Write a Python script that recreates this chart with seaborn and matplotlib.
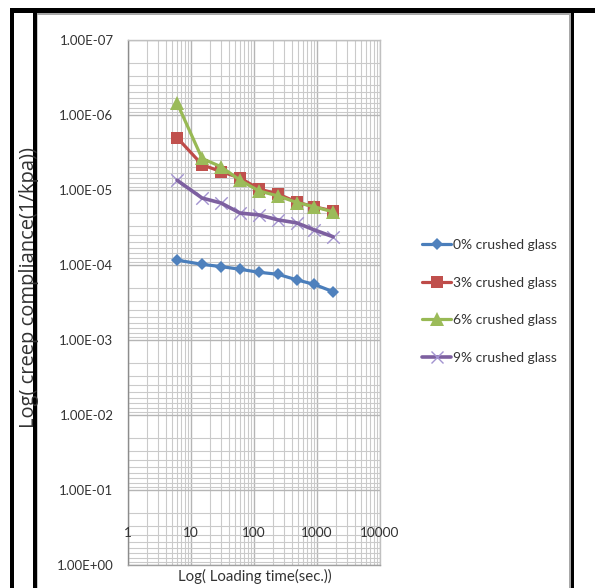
import numpy as np
import pandas as pd
import matplotlib
matplotlib.use("Agg")
import matplotlib.pyplot as plt
from matplotlib.lines import Line2D
from matplotlib.patches import Rectangle
from matplotlib.ticker import LogLocator, FuncFormatter, NullFormatter
import seaborn as sns

# ---------------- data ----------------
loading_time = [6, 15, 30, 60, 120, 240, 480, 900, 1800]
glass_0 = [8.6e-5, 9.8e-5, 1.05e-4, 1.14e-4, 1.25e-4, 1.33e-4, 1.58e-4, 1.81e-4, 2.27e-4]
glass_3 = [2.0e-6, 4.6e-6, 5.7e-6, 6.9e-6, 9.7e-6, 1.13e-5, 1.45e-5, 1.67e-5, 1.9e-5]
glass_6 = [6.9e-7, 3.8e-6, 4.9e-6, 7.4e-6, 1.03e-5, 1.2e-5, 1.47e-5, 1.67e-5, 1.96e-5]
glass_9 = [7.4e-6, 1.28e-5, 1.49e-5, 2.03e-5, 2.15e-5, 2.5e-5, 2.75e-5, 3.4e-5, 4.2e-5]
series_names = ["0% crushed glass", "3% crushed glass", "6% crushed glass", "9% crushed glass"]
x_ticks = [1, 10, 100, 1000, 10000]
x_tick_labels = ["1", "10", "100", "1000", "10000"]
y_ticks = [1e-7, 1e-6, 1e-5, 1e-4, 1e-3, 1e-2, 1e-1, 1e0]
x_title = "Log( Loading time(sec.))"
y_title = "Log( creep compliance(1/kpa))"

# ---------------- style ----------------
sns.set_style("white")
NARROW = ["Liberation Sans Narrow", "Lato", "DejaVu Sans"]
WIDE = ["Open Sans", "DejaVu Sans"]
plt.rcParams["font.family"] = NARROW
TXT = "#333333"

W, H = 595, 588
fig = plt.figure(figsize=(W / 100, H / 100), dpi=100)
fig.patch.set_facecolor("white")


def rect(x0, y0, x1, y1, color):
    fig.add_artist(Rectangle((x0 / W, 1 - y1 / H), (x1 - x0) / W, (y1 - y0) / H,
                             transform=fig.transFigure, facecolor=color,
                             edgecolor="none", zorder=1))


# page/table frame
rect(10, 8, 595, 13, "black")
rect(10, 8, 14, 588, "black")
rect(33, 13, 37, 588, "black")
rect(37, 13, 571, 15, "#a8a8a8")
rect(37, 15, 38, 588, "#c8c8c8")
rect(569, 13, 571, 588, "#a8a8a8")
rect(571, 8, 574, 588, "black")

ax = fig.add_axes([128 / W, 1 - 565 / H, (380 - 128) / W, (565 - 40) / H])
ax.set_xscale("log")
ax.set_yscale("log")
ax.set_xlim(1, 10000)
ax.set_ylim(1e0, 1e-7)  # reversed axis

# grid
ax.xaxis.set_minor_locator(LogLocator(base=10, subs=np.arange(2, 10), numticks=100))
ax.yaxis.set_minor_locator(LogLocator(base=10, subs=np.arange(2, 10), numticks=100))
ax.xaxis.set_minor_formatter(NullFormatter())
ax.yaxis.set_minor_formatter(NullFormatter())
ax.grid(True, which="major", color="#b5b5b5", linewidth=1.0)
ax.grid(True, which="minor", color="#cacaca", linewidth=0.8)
ax.set_axisbelow(True)

ax.set_yticks(y_ticks)
ax.yaxis.set_major_formatter(FuncFormatter(lambda v, p: f"{v:.2E}"))
ax.set_xticks(x_ticks)
ax.set_xticklabels([])
ax.tick_params(axis="y", which="major", length=4, width=1, color="#8c8c8c",
               pad=6.5, labelsize=9.5, labelcolor=TXT)
ax.tick_params(axis="x", which="major", length=0)
ax.tick_params(which="minor", length=0)
for s in ax.spines.values():
    s.set_color("#c0c0c0")
    s.set_linewidth(1.0)
ax.spines["left"].set_color("#8c8c8c")
ax.spines["bottom"].set_color("#a0a0a0")

# x tick labels sit inside the plot area (Excel crossing)
for xv, lab in zip(x_ticks, x_tick_labels):
    ax.text(xv, 0.061, lab, transform=ax.get_xaxis_transform(), ha="center",
            va="center", fontsize=9.8, color=TXT)

# ---------------- series ----------------
blue, blue_m = "#4a7ebb", "#4f81bd"
red, red_m = "#be4b48", "#c0504d"
green, green_m = "#98b954", "#9bbb59"
purple, purple_m = "#7d60a0", "#a393d0"

sns.lineplot(x=loading_time, y=glass_0, ax=ax, color=blue, linewidth=2.3,
             marker="D", markersize=6.2, markerfacecolor=blue_m,
             markeredgecolor=blue_m, markeredgewidth=0, sort=False, zorder=3)
sns.lineplot(x=loading_time, y=glass_3, ax=ax, color=red, linewidth=2.3,
             marker="s", markersize=8.5, markerfacecolor=red_m,
             markeredgecolor=red_m, markeredgewidth=0, sort=False, zorder=3)
sns.lineplot(x=loading_time, y=glass_6, ax=ax, color=green, linewidth=2.3,
             marker="^", markersize=9.5, markerfacecolor=green_m,
             markeredgecolor=green_m, markeredgewidth=0, sort=False, zorder=4)
sns.scatterplot(x=loading_time, y=glass_9, ax=ax, color=purple_m, marker="x",
                s=80, linewidth=1.0, zorder=4)
sns.lineplot(x=loading_time, y=glass_9, ax=ax, color=purple, linewidth=2.6,
             sort=False, zorder=5)
ax.set_xlabel("")
ax.set_ylabel("")

# ---------------- legend ----------------
handles = [
    Line2D([], [], color=blue, lw=2.3, marker="D", markersize=6.2,
           markerfacecolor=blue_m, markeredgewidth=0),
    Line2D([], [], color=red, lw=2.3, marker="s", markersize=8.5,
           markerfacecolor=red_m, markeredgewidth=0),
    Line2D([], [], color=green, lw=2.3, marker="^", markersize=9.5,
           markerfacecolor=green_m, markeredgewidth=0),
    Line2D([], [], color=purple, lw=2.6, marker="x", markersize=9,
           markeredgecolor=purple_m, markeredgewidth=1.0),
]
leg = fig.legend(handles, series_names, loc="center left",
                 bbox_to_anchor=(422 / W, 1 - 301.5 / H),
                 bbox_transform=fig.transFigure, frameon=False, borderpad=0,
                 borderaxespad=0, handlelength=2.1, handletextpad=0.1,
                 labelspacing=1.85, fontsize=10)
leg.set_zorder(6)
for t in leg.get_texts():
    t.set_color(TXT)

# ---------------- titles ----------------
fig.text(255 / W, 1 - 576 / H, x_title, ha="center", va="center",
         fontsize=10.8, color=TXT)
fig.text(29 / W, 1 - 287 / H, y_title, ha="center", va="center",
         rotation=90, fontsize=14.5, color=TXT, family=WIDE)

fig.savefig("out.png", dpi=100)
